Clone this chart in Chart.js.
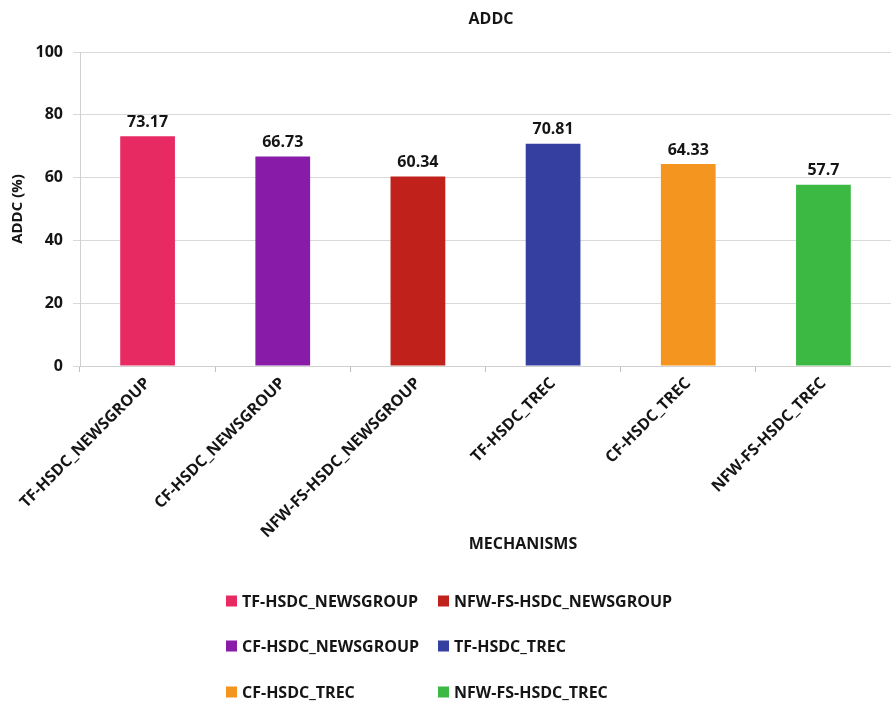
<!DOCTYPE html>
<html>
<head>
<meta charset="utf-8">
<script src="https://cdn.jsdelivr.net/npm/chart.js@4/dist/chart.umd.min.js"></script>
<style>
  html, body { margin: 0; padding: 0; background: #ffffff; }
  #wrap { width: 891px; height: 705px; }
</style>
</head>
<body>
<div id="wrap"><canvas id="c" width="891" height="705"></canvas></div>
<script>
// ADDC (%) per mechanism
const mechanisms = [
  'TF-HSDC_NEWSGROUP',
  'CF-HSDC_NEWSGROUP',
  'NFW-FS-HSDC_NEWSGROUP',
  'TF-HSDC_TREC',
  'CF-HSDC_TREC',
  'NFW-FS-HSDC_TREC'
];
const addcValues = [73.17, 66.73, 60.34, 70.81, 64.33, 57.7];
const barColors = ['#E82A62', '#881CA8', '#C0221B', '#353F9F', '#F4951F', '#3BB942'];
const yTicks = [0, 20, 40, 60, 80, 100];
// legend reads row by row: two entries per row
const legendOrder = [0, 2, 1, 3, 4, 5];

const FONT = '"Open Sans", "DejaVu Sans", sans-serif';
const TEXT = '#151515';

// value labels above each bar
const valueLabels = {
  id: 'valueLabels',
  afterDatasetsDraw(chart) {
    const ctx = chart.ctx;
    const meta = chart.getDatasetMeta(0);
    ctx.save();
    ctx.font = 'bold 16px ' + FONT;
    ctx.fillStyle = TEXT;
    ctx.textAlign = 'center';
    ctx.textBaseline = 'bottom';
    meta.data.forEach((bar, i) => {
      ctx.fillText(String(addcValues[i]), bar.x, bar.y - 6);
    });
    ctx.restore();
  }
};

// chart title, x-axis title and the two-column legend
const decorations = {
  id: 'decorations',
  afterDraw(chart) {
    const ctx = chart.ctx;
    ctx.save();
    ctx.fillStyle = TEXT;
    ctx.textAlign = 'center';
    ctx.textBaseline = 'middle';
    ctx.font = 'bold 16px ' + FONT;
    ctx.fillText('ADDC', 491, 19);
    ctx.fillText('MECHANISMS', 523, 544);

    const colX = [226, 438];
    const rowY = [601, 646, 692];
    ctx.textAlign = 'left';
    legendOrder.forEach((idx, k) => {
      const x = colX[k % 2];
      const y = rowY[Math.floor(k / 2)];
      ctx.fillStyle = barColors[idx];
      ctx.fillRect(x, y - 5.5, 11, 11);
      ctx.fillStyle = TEXT;
      ctx.fillText(mechanisms[idx], x + 16, y + 1);
    });
    ctx.restore();
  }
};

new Chart(document.getElementById('c'), {
  type: 'bar',
  data: {
    labels: mechanisms,
    datasets: [{
      label: 'ADDC (%)',
      data: addcValues,
      backgroundColor: barColors,
      borderWidth: 0,
      categoryPercentage: 1,
      barPercentage: 0.405
    }]
  },
  options: {
    responsive: false,
    animation: false,
    devicePixelRatio: 1,
    layout: { padding: { top: 52, right: 0, bottom: 149, left: 0 } },
    plugins: {
      legend: { display: false },
      title: { display: false },
      tooltip: { enabled: false }
    },
    scales: {
      x: {
        grid: {
          display: true,
          drawOnChartArea: false,
          drawTicks: true,
          tickLength: 6,
          color: '#bfbfbf'
        },
        border: { display: true, color: '#d0d0d0', width: 1 },
        ticks: {
          minRotation: 45,
          maxRotation: 45,
          autoSkip: false,
          padding: 2,
          color: TEXT,
          font: { family: FONT, size: 16, weight: 'bold' }
        },
        afterFit(scale) { scale.height = 190; }
      },
      y: {
        min: 0,
        max: 100,
        afterBuildTicks(scale) { scale.ticks = yTicks.map(v => ({ value: v })); },
        grid: {
          color: '#d9d9d9',
          lineWidth: 1,
          tickLength: 7,
          drawTicks: true
        },
        border: { display: true, color: '#d0d0d0', width: 1 },
        ticks: {
          padding: 10,
          color: TEXT,
          font: { family: FONT, size: 16, weight: 'bold' }
        },
        title: {
          display: true,
          text: 'ADDC (%)',
          color: TEXT,
          padding: { top: 9, bottom: 0 },
          font: { family: FONT, size: 15, weight: 'bold' }
        },
        afterFit(scale) { scale.width = 80; }
      }
    }
  },
  plugins: [valueLabels, decorations]
});
</script>
</body>
</html>
